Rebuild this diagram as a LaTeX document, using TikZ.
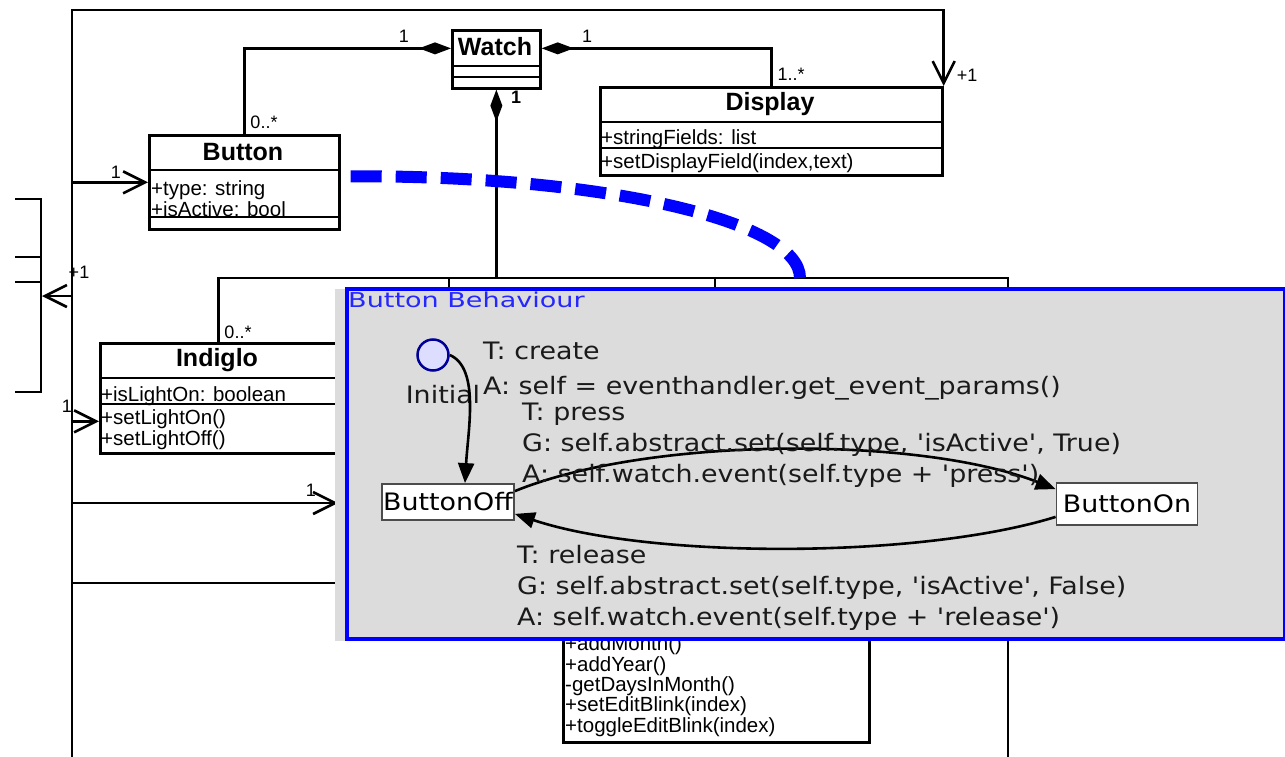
\documentclass[tikz,border=0pt]{standalone}
\usepackage{fontspec}
\setmainfont{Liberation Sans}
\newfontfamily\statefont[FakeStretch=1.12,Ligatures=TeXOff]{DejaVu Sans}
\newfontfamily\titlefont[FakeStretch=1.32]{DejaVu Sans}
\usetikzlibrary{arrows.meta}

\definecolor{panelgray}{HTML}{DCDCDC}
\definecolor{initfill}{HTML}{DDDDFF}
\definecolor{initline}{HTML}{000099}
\definecolor{statetext}{HTML}{1A1A1A}

\newcommand{\memberfont}{\fontsize{20.5}{20.5}\selectfont}
\newcommand{\namefont}{\fontsize{25}{25}\selectfont\bfseries}
\newcommand{\multfont}{\fontsize{18}{18}\selectfont}
\newcommand{\smfont}{\statefont\fontsize{24}{31}\selectfont}

\begin{document}
\begin{tikzpicture}[x=1pt,y=-1pt,
    cls/.style={draw, line width=2.7pt, fill=white, inner sep=0pt, anchor=north west},
    clsname/.style={font=\namefont, inner sep=0pt},
    member/.style={font=\memberfont, anchor=base west, inner sep=0pt},
    mult/.style={font=\multfont, inner sep=0pt},
    assoc/.style={line width=2.6pt},
    nav/.style={assoc, -{Straight Barb[length=22pt,width=22pt,line width=2.6pt]}},
    comp/.style={assoc, {Diamond[length=32pt,width=12pt]}-},
    state/.style={draw=gray!60!black, line width=1.8pt, fill=white, inner sep=0pt, font=\smfont},
    guard/.style={font=\smfont, text=statetext, anchor=west, align=left, inner sep=0pt},
    trans/.style={line width=2.6pt, -{Triangle[length=20pt,width=16pt]}},
]
    \useasboundingbox (0,0) rectangle (1285,757);

    % Rail on the left
    \coordinate (railtop) at (72,10);
    \coordinate (railbot) at (72,757);

    % Partly visible class on the far left
    \draw[line width=2.7pt] (15,199) -- (41,199) -- (41,392) -- (15,392);
    \draw[line width=2.7pt] (15,257) -- (41,257) (15,282) -- (41,282);
    \coordinate (leftin) at (42,296);

    % Watch
    \node[cls, minimum width=88pt, minimum height=58pt] (watch) at (451,29) {};
    \node[clsname] (watchname) at (495,47) {Watch};
    \draw[line width=2.7pt] (451,66) -- (539,66) (451,77) -- (539,77);

    % Display
    \node[cls, minimum width=342pt, minimum height=88pt] (display) at (599,86) {};
    \node[clsname] (displayname) at (770,104) {Display};
    \draw[line width=2.7pt] (599,122) -- (941,122) (599,148) -- (941,148);
    \node[member] (dispattr) at (601,145) {+stringFields: list};
    \node[member] (dispop) at (601,168) {+setDisplayField(index,text)};

    % Button
    \node[cls, minimum width=190pt, minimum height=94pt] (button) at (148,134) {};
    \node[clsname] (buttonname) at (243,152) {Button};
    \draw[line width=2.7pt] (148,170) -- (338,170) (148,217) -- (338,217);
    \node[member] (btnattr1) at (151,195) {+type: string};
    \node[member] (btnattr2) at (151,216) {+isActive: bool};

    % Indiglo
    \node[cls, minimum width=236pt, minimum height=110pt] (indiglo) at (99,342) {};
    \node[clsname] (indigloname) at (217,360) {Indiglo};
    \draw[line width=2.7pt] (99,378) -- (335,378) (99,404) -- (335,404);
    \node[member] (indattr) at (101,401) {+isLightOn: boolean};
    \node[member] (indop1) at (101,424) {+setLightOn()};
    \node[member] (indop2) at (101,445) {+setLightOff()};

    % Class under the panel
    \node[cls, minimum width=306pt, minimum height=141pt] (clock) at (562,600) {};
    \node[member] (clkop1) at (565,650) {+addMonth()};
    \node[member] (clkop2) at (565,671) {+addYear()};
    \node[member] (clkop3) at (565,691) {-getDaysInMonth()};
    \node[member] (clkop4) at (565,711) {+setEditBlink(index)};
    \node[member] (clkop5) at (565,732) {+toggleEditBlink(index)};

    % Navigable associations from the rail
    \draw[nav] (railbot) -- (railtop) -| (display.north east);
    \draw[nav] (button.west -| railtop) -- (button.west);
    \coordinate (indin) at ([yshift=-23pt]indiglo.west);
    \draw[nav] (indin -| railtop) -- (indin);
    \coordinate (hiddenin) at (338,503);
    \draw[nav] (hiddenin -| railtop) -- (hiddenin);
    \draw[nav] (leftin -| railtop) -- (leftin);
    \draw[assoc] (72,583) -- (420,583);

    % Compositions of Watch
    \coordinate (bus) at (495,278);
    \draw[comp] ([yshift=11pt]watch.west) -| (button.north);
    \draw[comp] ([yshift=11pt]watch.east) -| (display.north);
    \draw[comp] (watch.south) -- (watch.south |- bus);
    \draw[assoc] (indiglo.north) |- (1008,278) -- (1008,757);
    \draw[assoc] (449,278) -- (449,300) (715,278) -- (715,300);

    % Multiplicities
    \node[mult] (m1) at (404,36) {1};
    \node[mult] (m2) at (264,122) {0..*};
    \node[mult] (m3) at (587,36) {1};
    \node[mult] (m4) at (791,74) {1..*};
    \node[mult] (m5) at (967,75) {+1};
    \node[mult, font=\multfont\bfseries] (m6) at (516,97) {1};
    \node[mult] (m7) at (116,172) {1};
    \node[mult] (m8) at (79,272) {+1};
    \node[mult] (m9) at (238,332) {0..*};
    \node[mult] (m10) at (67,406) {1};
    \node[mult] (m11) at (311,490) {1};

    % Link from Button to its behaviour
    \coordinate (linkend) at (800,278);
    \draw[blue, line width=12pt, dash pattern=on 31pt off 14pt]
        ([xshift=10pt,yshift=6pt]button.east) .. controls (598,175) and (800,220) .. (linkend);

    % Behaviour panel
    \fill[panelgray] (335,289) rectangle (1285,641);
    \node[draw=blue, line width=4pt, fill=panelgray, anchor=north west,
          minimum width=938pt, minimum height=350pt, inner sep=0pt] (panel) at (345,287) {};
    \node[font=\titlefont\fontsize{20.5}{20.5}\selectfont, text=blue!85!white, anchor=west, inner sep=0pt]
        (paneltitle) at (348,300) {Button Behaviour};

    % States
    \node[circle, draw=initline, fill=initfill, line width=2.5pt, minimum size=31pt, inner sep=0pt]
        (init) at (433,355) {};
    \node[font=\smfont, text=statetext, inner sep=0pt] (initlabel) at (443,395) {Initial};
    \node[state, minimum width=132pt, minimum height=36pt] (boff) at (448,502) {ButtonOff};
    \node[state, minimum width=141pt, minimum height=42pt] (bon) at (1127,504) {ButtonOn};

    % Transitions
    \draw[trans] (init.east) .. controls (480,368) and (468,430) .. ([xshift=17pt]boff.north);
    \draw[trans] ([yshift=-8pt]boff.north east) .. controls (650,436) and (920,436) .. ([yshift=-7pt]bon.north west);
    \draw[trans] ([yshift=9pt]bon.south west) .. controls (920,559) and (650,559) .. ([yshift=7pt]boff.south east);

    % Transition labels
    \node[guard] (createlbl) at (483,371)
        {T: create\\[4pt]A: self = eventhandler.get\_event\_params()};
    \node[guard] (presslbl) at (522,445)
        {T: press\\G: self.abstract.set(self.type, 'isActive', True)\\A: self.watch.event(self.type + 'press')};
    \node[guard] (releaselbl) at (517,588)
        {T: release\\G: self.abstract.set(self.type, 'isActive', False)\\A: self.watch.event(self.type + 'release')};
\end{tikzpicture}
\end{document}
